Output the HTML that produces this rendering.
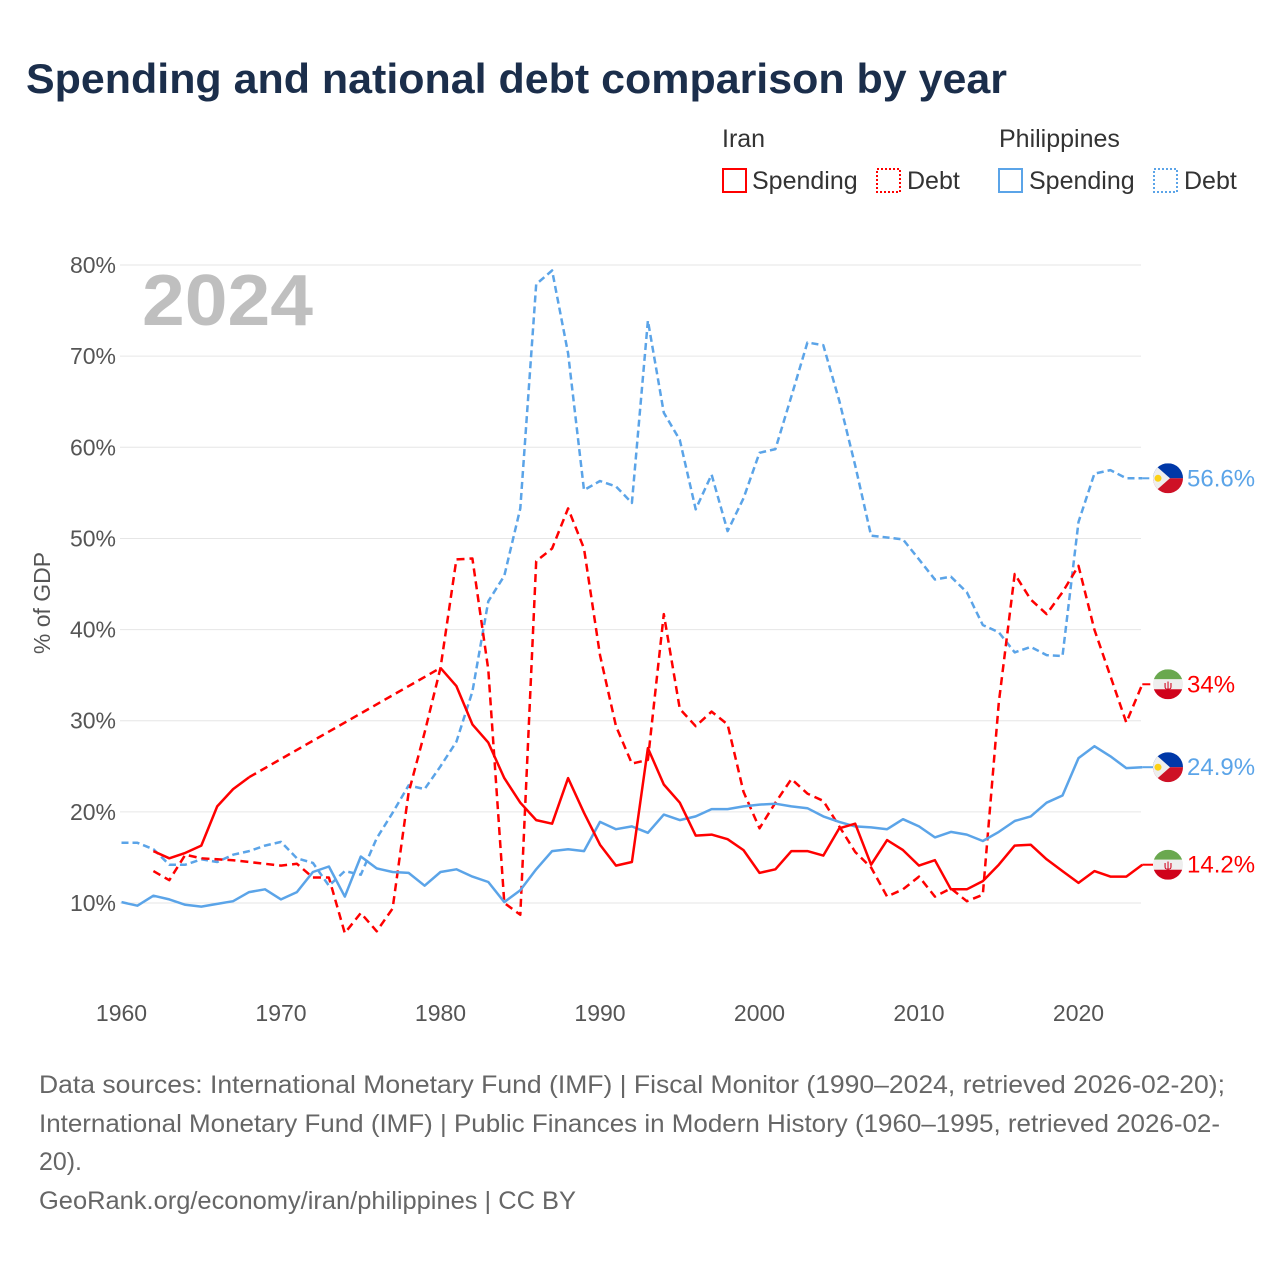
<!DOCTYPE html>
<html><head><meta charset="utf-8"><style>
body{margin:0;background:#fff;font-family:"Liberation Sans",sans-serif;}
#wrap{position:relative;width:1280px;height:1280px;overflow:hidden;}
</style></head><body>
<div id="wrap">
<svg id="svg" width="1280" height="1280" xmlns="http://www.w3.org/2000/svg">
<text x="26" y="93" font-size="42" font-weight="bold" fill="#1b2e4b" textLength="981" lengthAdjust="spacingAndGlyphs">Spending and national debt comparison by year</text>
<g font-size="25" fill="#1b2e4b">
<text x="722" y="147" fill="#333">Iran</text>
<text x="999" y="147" fill="#333">Philippines</text>
<g><rect x="723" y="169" width="23" height="23" fill="none" stroke="#f00" stroke-width="2"/><text x="752" y="189" fill="#333">Spending</text></g>
<g><rect x="877" y="169" width="23" height="23" fill="none" stroke="#f00" stroke-width="2" stroke-dasharray="2,2"/><text x="907" y="189" fill="#333">Debt</text></g>
<g><rect x="999" y="169" width="23" height="23" fill="none" stroke="#5ba4e8" stroke-width="2"/><text x="1029" y="189" fill="#333">Spending</text></g>
<g><rect x="1154" y="169" width="23" height="23" fill="none" stroke="#5ba4e8" stroke-width="2" stroke-dasharray="2,2"/><text x="1184" y="189" fill="#333">Debt</text></g>
</g>
<text x="142" y="325" font-size="72" font-weight="bold" fill="#bfbfbf" textLength="171" lengthAdjust="spacingAndGlyphs">2024</text>
<text transform="translate(50,603) rotate(-90)" text-anchor="middle" font-size="23" fill="#555">% of GDP</text>
<g id="grid"></g><g id="series"></g><g id="ends"></g>
<g font-size="25" fill="#666">
<text x="39" y="1093" textLength="1186" lengthAdjust="spacingAndGlyphs">Data sources: International Monetary Fund (IMF) | Fiscal Monitor (1990–2024, retrieved 2026-02-20);</text>
<text x="39" y="1132" textLength="1181" lengthAdjust="spacingAndGlyphs">International Monetary Fund (IMF) | Public Finances in Modern History (1960–1995, retrieved 2026-02-</text>
<text x="39" y="1170" textLength="43" lengthAdjust="spacingAndGlyphs">20).</text>
<text x="39" y="1209" textLength="537" lengthAdjust="spacingAndGlyphs">GeoRank.org/economy/iran/philippines | CC BY</text>
</g>
</svg>
</div>
<script>
const yTicks=[10,20,30,40,50,60,70,80];
const xTicks=[1960,1970,1980,1990,2000,2010,2020];
const years=[];for(let y=1960;y<=2024;y++)years.push(y);
const iranSpending=[null,null,15.7,14.9,15.5,16.3,20.6,22.5,23.8,null,null,null,null,null,null,null,null,null,null,null,35.8,33.8,29.6,27.6,23.7,21.0,19.1,18.7,23.7,19.9,16.4,14.1,14.5,27.0,23.0,21.0,17.4,17.5,17.0,15.8,13.3,13.7,15.7,15.7,15.2,18.2,18.7,14.2,16.9,15.8,14.1,14.7,11.5,11.5,12.4,14.2,16.3,16.4,14.8,13.5,12.2,13.5,12.9,12.9,14.2];
const iranDebt=[null,null,13.5,12.5,15.3,14.9,14.8,14.7,14.5,14.3,14.1,14.3,12.8,12.8,6.7,8.9,6.9,9.4,22.1,28.7,35.8,47.7,47.8,35.6,10.0,8.7,47.5,48.9,53.3,48.9,37.2,29.4,25.3,25.7,41.7,31.3,29.4,31.0,29.6,22.2,18.2,21.0,23.6,22.0,21.2,18.4,15.6,13.9,10.7,11.5,12.9,10.7,11.6,10.2,10.9,32.0,46.1,43.3,41.7,44.1,47.0,40.0,34.9,29.8,34.0];
const phSpending=[10.1,9.7,10.8,10.4,9.8,9.6,9.9,10.2,11.2,11.5,10.4,11.2,13.4,14.0,10.7,15.1,13.8,13.4,13.3,11.9,13.4,13.7,12.9,12.3,10.1,11.4,13.7,15.7,15.9,15.7,18.9,18.1,18.4,17.7,19.7,19.1,19.5,20.3,20.3,20.6,20.8,20.9,20.6,20.4,19.5,18.9,18.4,18.3,18.1,19.2,18.4,17.2,17.8,17.5,16.8,17.8,19.0,19.5,21.0,21.8,25.9,27.2,26.1,24.8,24.9];
const phDebt=[16.6,16.6,15.9,14.2,14.2,14.8,14.5,15.3,15.7,16.3,16.7,14.9,14.4,11.9,13.5,13.1,17.1,19.9,22.9,22.5,25.0,27.7,33.2,43.1,45.9,53.3,77.9,79.4,70.3,55.3,56.3,55.7,53.9,73.9,63.8,60.8,53.2,57.0,50.8,54.4,59.4,59.8,65.6,71.5,71.2,65.1,58.0,50.3,50.1,49.9,47.7,45.5,45.8,44.1,40.5,39.7,37.5,38.1,37.2,37.1,51.8,57.1,57.5,56.6,56.6];
const endLabels=["56.6%","34%","24.9%","14.2%"];

const NS="http://www.w3.org/2000/svg";
const X=y=>121.5+(y-1960)*15.95;
const Y=v=>903-(v-10)*9.114;
function el(t,a,p){const e=document.createElementNS(NS,t);for(const k in a)e.setAttribute(k,a[k]);p.appendChild(e);return e;}
const grid=document.getElementById('grid');
yTicks.forEach(v=>{
 const l=el('line',{x1:120,x2:1141,y1:Y(v),y2:Y(v),stroke:'#e6e6e6','stroke-width':1},grid);
 
 
 const t=el('text',{x:116,y:Y(v)+8,'text-anchor':'end','font-size':23,fill:'#555'},grid);
 t.textContent=v+'%';
 
 
});
xTicks.forEach(yr=>{
 const t=el('text',{x:X(yr),y:1021,'text-anchor':'middle','font-size':23,fill:'#555'},grid);
 t.textContent=yr;
 
 
});
const ser=document.getElementById('series');
function draw(data,color,dash,name){
 let d='',gap='',prev=null,pen=false;
 data.forEach((v,i)=>{
  if(v==null){pen=false;return;}
  const px=X(years[i]).toFixed(1),py=Y(v).toFixed(1);
  if(prev&&prev.i<i-1){gap+='M'+prev.x+','+prev.y+'L'+px+','+py;}
  d+=(pen?'L':'M')+px+','+py;pen=true;prev={i,x:px,y:py};
 });
 const p=el('path',{d,fill:'none',stroke:color,'stroke-width':2.5,'stroke-linejoin':'round'},ser);
 if(dash)p.setAttribute('stroke-dasharray',dash);
 
 
 if(gap){const g=el('path',{d:gap,fill:'none',stroke:color,'stroke-width':2.5,'stroke-dasharray':'8,5'},ser);
 
 }
 const last=data[data.length-1];
 const c=el('line',{x1:X(2024),x2:1153,y1:Y(last),y2:Y(last),stroke:color,'stroke-width':2,'stroke-dasharray':dash||'none'},ser);
 
 
}
const RED='#ff0000',BLUE='#5ba4e8';
draw(phDebt,BLUE,'7,4','philippines-debt');
draw(iranDebt,RED,'8,5','iran-debt');
draw(phSpending,BLUE,null,'philippines-spending');
draw(iranSpending,RED,null,'iran-spending');

const ends=document.getElementById('ends');
function flag(kind,cy,label,color,name){
 const g=el('g',{},ends);
 
 
 const cx=1168,r=15;
 const cid='c'+name;
 const cp=el('clipPath',{id:cid},g);el('circle',{cx,cy,r},cp);
 const f=el('g',{'clip-path':'url(#'+cid+')'},g);
 if(kind==='ph'){
  el('rect',{x:cx-r,y:cy-r,width:2*r,height:r,fill:'#0038a8'},f);
  el('rect',{x:cx-r,y:cy,width:2*r,height:r,fill:'#ce1126'},f);
  el('path',{d:`M${cx-r},${cy-r}L${cx+2},${cy}L${cx-r},${cy+r}Z`,fill:'#eee'},f);
  el('circle',{cx:cx-10,cy,r:3.5,fill:'#fcd116'},f);
 }else{
  el('rect',{x:cx-r,y:cy-r,width:2*r,height:10,fill:'#6aa84f'},f);
  el('rect',{x:cx-r,y:cy-5,width:2*r,height:10,fill:'#eee'},f);
  el('rect',{x:cx-r,y:cy+5,width:2*r,height:10,fill:'#d0021b'},f);
  const t=el('text',{x:cx,y:cy+5,'text-anchor':'middle','font-size':12,fill:'#d0021b'},f);t.textContent='ψ';
 }
 const t=el('text',{x:1187,y:cy+8,'font-size':24,fill:color},g);t.textContent=label;
}
flag('ph',Y(phDebt[64]),endLabels[0],BLUE,'philippines-debt');
flag('ir',Y(iranDebt[64]),endLabels[1],RED,'iran-debt');
flag('ph',Y(phSpending[64]),endLabels[2],BLUE,'philippines-spending');
flag('ir',Y(iranSpending[64]),endLabels[3],RED,'iran-spending');
</script>
</body></html>
